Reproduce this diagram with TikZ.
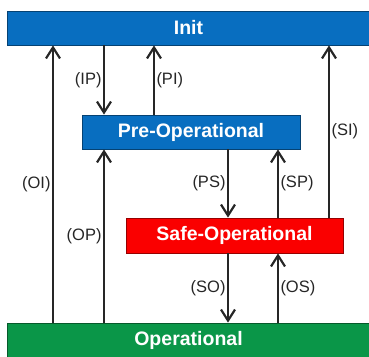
\documentclass[tikz,border=0pt]{standalone}
\usepackage{fontspec}
\setmainfont{Liberation Sans}
\usetikzlibrary{arrows.meta}

\definecolor{initblue}{RGB}{8,110,192}
\definecolor{safered}{RGB}{250,0,0}
\definecolor{opgreen}{RGB}{10,150,72}

\tikzset{
  state/.style={draw=#1!60!black, line width=0.8pt, fill=#1, text=white,
    font=\fontsize{19.5}{21}\selectfont\bfseries, inner sep=0pt},
  trans/.style={line width=2pt, black!85, -{Straight Barb[length=11pt,width=14pt,line width=2.2pt]}},
  lbl/.style={font=\fontsize{16.5}{18}\selectfont, text=black!85, inner sep=1.5pt}
}

\begin{document}
\begin{tikzpicture}[x=1pt,y=-1pt]
\useasboundingbox (0,0) rectangle (369,356);

% states
\node[state=initblue, minimum width=363pt, minimum height=34pt] (init) at (188.5,28) {Init};
\node[state=initblue, minimum width=218pt, minimum height=34pt] (pre) at (191,132) {Pre-Operational};
\node[state=safered, minimum width=217pt, minimum height=35pt] (safe) at (234.5,235.5) {Safe-Operational};
\node[state=opgreen, minimum width=363pt, minimum height=34pt] (op) at (188.5,340) {Operational};

% x positions of the transitions
\coordinate (xOI) at (53,0);
\coordinate (xIP) at (104,0);
\coordinate (xPI) at (154,0);
\coordinate (xSI) at (329,0);
\coordinate (xPS) at (228,0);
\coordinate (xSP) at (278,0);

% transitions
\draw[trans] (op.north -| xOI) -- (init.south -| xOI) node[lbl,midway,left] {(OI)};
\draw[trans] (init.south -| xIP) -- (pre.north -| xIP) node[lbl,midway,left] {(IP)};
\draw[trans] (pre.north -| xPI) -- (init.south -| xPI) node[lbl,midway,right] {(PI)};
\draw[trans] (safe.north -| xSI) -- (init.south -| xSI) node[lbl,midway,right] {(SI)};
\draw[trans] (op.north -| xIP) -- (pre.south -| xIP) node[lbl,midway,left] {(OP)};
\draw[trans] (pre.south -| xPS) -- (safe.north -| xPS) node[lbl,midway,left] {(PS)};
\draw[trans] (safe.north -| xSP) -- (pre.south -| xSP) node[lbl,midway,right] {(SP)};
\draw[trans] (safe.south -| xPS) -- (op.north -| xPS) node[lbl,midway,left] {(SO)};
\draw[trans] (op.north -| xSP) -- (safe.south -| xSP) node[lbl,midway,right] {(OS)};
\end{tikzpicture}
\end{document}
